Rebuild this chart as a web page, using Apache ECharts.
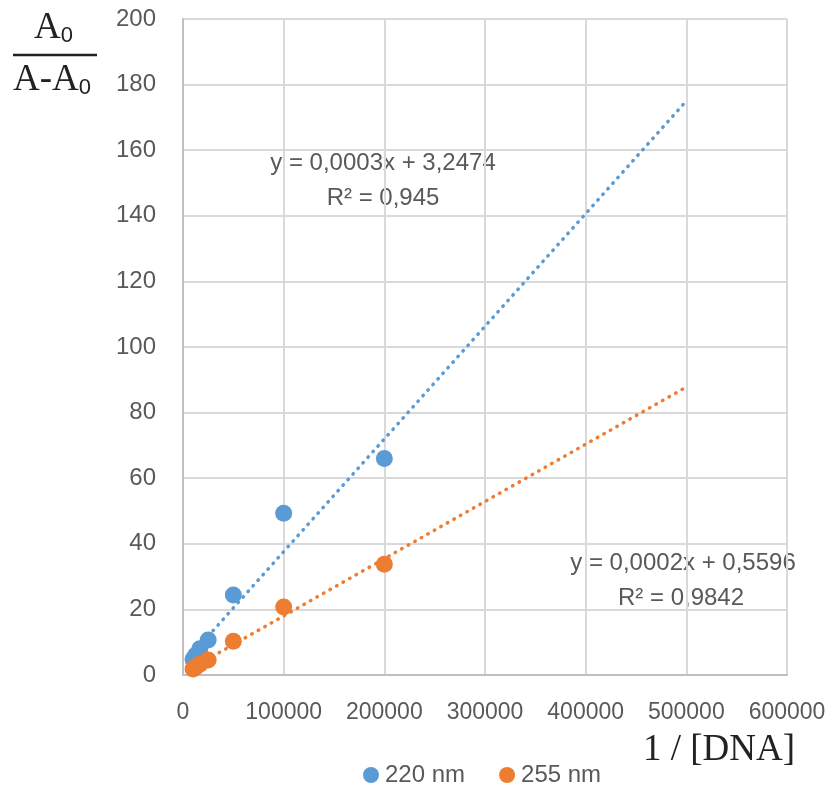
<!DOCTYPE html>
<html>
<head>
<meta charset="utf-8">
<script src="https://cdn.jsdelivr.net/npm/echarts@6/dist/echarts.min.js"></script>
<style>
html,body{margin:0;padding:0;background:#fff;}
#c{width:835px;height:791px;}
</style>
</head>
<body>
<div id="c"></div>
<script>
// ---- data ----
const invDNA = [200000, 100000, 50000, 25000, 16667, 12500, 10000];
const nm220 = [66, 49.3, 24.4, 10.7, 8.0, 6.0, 4.8];
const nm255 = [33.8, 20.7, 10.3, 4.6, 3.3, 2.4, 1.8];
// trendline end points (x, y)
const trendX = [10000, 500000];
const trend220 = [6.7, 175];
const trend255 = [2.3, 87.8];
const xTicks = [0, 100000, 200000, 300000, 400000, 500000, 600000];
const yTicks = [0, 20, 40, 60, 80, 100, 120, 140, 160, 180, 200];
const seriesNames = ['220 nm', '255 nm'];
const eq220 = ['y = 0,0003x + 3,2474', 'R² = 0,945'];
const eq255 = ['y = 0,0002x + 0,5596', 'R² = 0,9842'];

const BLUE = '#5b9bd5', ORANGE = '#ed7d31', TXT = '#595959';
const sans = '"Liberation Sans", Arial, sans-serif';
const serif = '"Liberation Serif", "Times New Roman", serif';

const pts = (xs, ys) => xs.map((x, i) => [x, ys[i]]);
const dotted = (c) => ({color: c, width: 3.5, type: [0.5, 7], cap: 'round'});

const chart = echarts.init(document.getElementById('c'), null, {renderer: 'canvas'});
chart.setOption({
  animation: false,
  backgroundColor: '#fff',
  grid: {left: 183, right: 48, top: 19, bottom: 116},
  xAxis: {
    type: 'value', min: xTicks[0], max: xTicks[xTicks.length - 1], interval: xTicks[1] - xTicks[0],
    axisLine: {show: true, lineStyle: {color: '#bfbfbf', width: 2}},
    axisTick: {show: false},
    splitLine: {show: true, lineStyle: {color: '#d9d9d9', width: 2}},
    axisLabel: {color: TXT, fontFamily: sans, fontSize: 23, margin: 26, formatter: v => String(v)}
  },
  yAxis: {
    type: 'value', min: yTicks[0], max: yTicks[yTicks.length - 1], interval: yTicks[1] - yTicks[0],
    axisLine: {show: true, lineStyle: {color: '#bfbfbf', width: 2}},
    axisTick: {show: false},
    splitLine: {show: true, lineStyle: {color: '#d9d9d9', width: 2}},
    axisLabel: {color: TXT, fontFamily: sans, fontSize: 24, margin: 27}
  },
  legend: {
    data: seriesNames,
    left: 358, top: 758,
    icon: 'circle', itemWidth: 16, itemHeight: 16, itemGap: 34,
    textStyle: {color: TXT, fontFamily: sans, fontSize: 24, padding: [0, 0, 0, 1]}
  },
  series: [
    {name: 'trend220', type: 'line', data: pts(trendX, trend220), symbol: 'none', silent: true,
     lineStyle: dotted(BLUE), z: 2},
    {name: 'trend255', type: 'line', data: pts(trendX, trend255), symbol: 'none', silent: true,
     lineStyle: dotted(ORANGE), z: 2},
    {name: seriesNames[0], type: 'scatter', data: pts(invDNA, nm220), symbolSize: 17,
     itemStyle: {color: BLUE, opacity: 1}, z: 3},
    {name: seriesNames[1], type: 'scatter', data: pts(invDNA, nm255), symbolSize: 17,
     itemStyle: {color: ORANGE, opacity: 1}, z: 3}
  ],
  graphic: [
    // y-axis title as a fraction
    {type: 'text', left: 34, top: 10, style: {
      text: '{a|A}{s|0}', rich: {
        a: {fontFamily: serif, fontSize: 37, fill: '#222'},
        s: {fontFamily: sans, fontSize: 22, fill: '#222', verticalAlign: 'bottom', padding: [14, 0, 0, 0]}
      }}},
    {type: 'line', shape: {x1: 13, y1: 55, x2: 97, y2: 55}, style: {stroke: '#222', lineWidth: 2.5}},
    {type: 'text', left: 13, top: 62, style: {
      text: '{a|A-A}{s|0}', rich: {
        a: {fontFamily: serif, fontSize: 37, fill: '#222'},
        s: {fontFamily: sans, fontSize: 22, fill: '#222', verticalAlign: 'bottom', padding: [14, 0, 0, 0]}
      }}},
    // x-axis title
    {type: 'text', right: 40, top: 732, style: {text: '1 / [DNA]', fontFamily: serif, fontSize: 37, fill: '#222'}},
    // trendline equations
    {type: 'text', x: 383, y: 163, style: {text: eq220[0], fontFamily: sans, fontSize: 24, fill: TXT, align: 'center', verticalAlign: 'middle'}},
    {type: 'text', x: 383, y: 198, style: {text: eq220[1], fontFamily: sans, fontSize: 24, fill: TXT, align: 'center', verticalAlign: 'middle'}},
    {type: 'text', x: 683, y: 563, style: {text: eq255[0], fontFamily: sans, fontSize: 24, fill: TXT, align: 'center', verticalAlign: 'middle'}},
    {type: 'text', x: 681, y: 598, style: {text: eq255[1], fontFamily: sans, fontSize: 24, fill: TXT, align: 'center', verticalAlign: 'middle'}}
  ]
});
</script>
</body>
</html>
